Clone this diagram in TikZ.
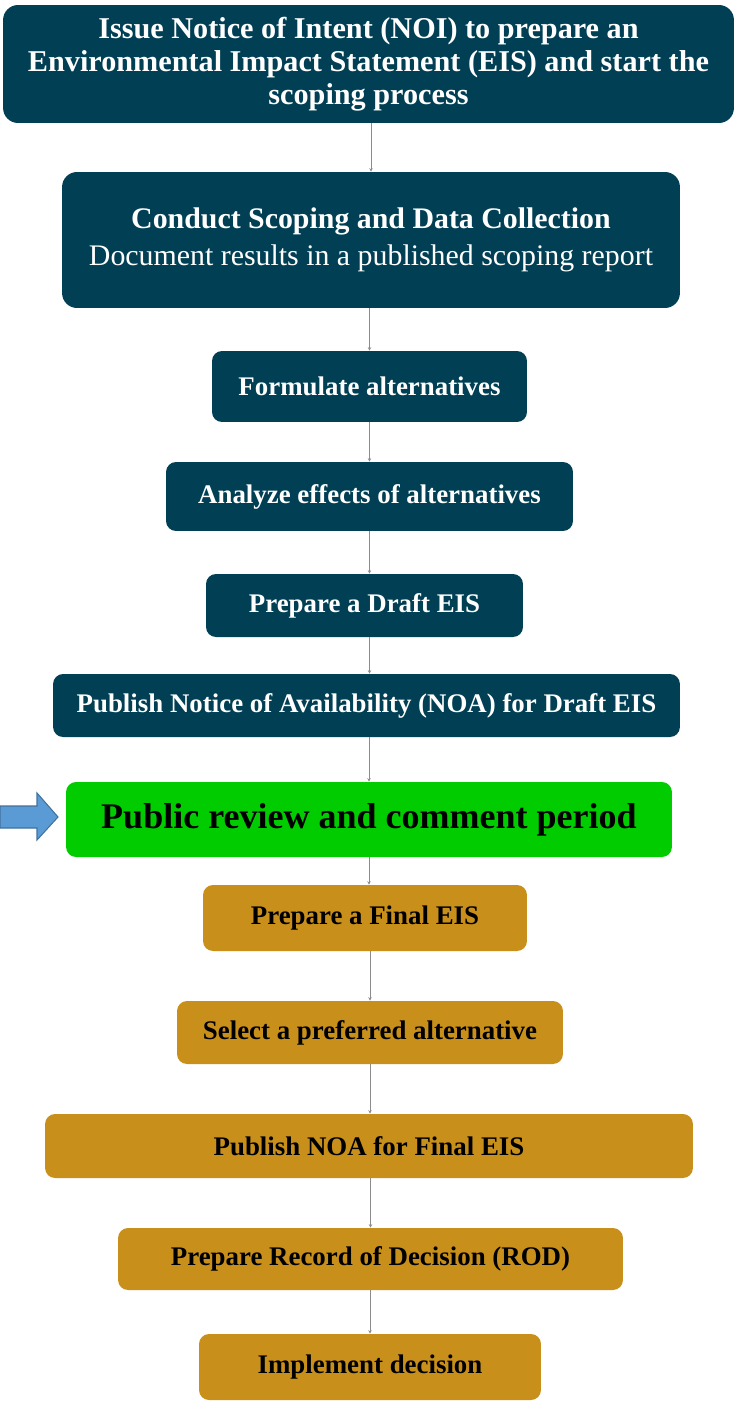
\documentclass[tikz,border=0pt]{standalone}
\usepackage{fontspec}
\setmainfont{Liberation Serif}
\usetikzlibrary{arrows.meta}

\definecolor{stepblue}{HTML}{003F54}
\definecolor{stepgreen}{HTML}{00CC00}
\definecolor{stepgold}{HTML}{C8901A}
\definecolor{pointerfill}{HTML}{5B9BD5}
\definecolor{pointerline}{HTML}{41719C}

\begin{document}
\begin{tikzpicture}[x=0.02cm,y=-0.02cm,
        stage/.style={rounded corners=0.2cm,fill=stepblue,text=white,align=center,
            font=\bfseries\fontsize{15.3}{19}\selectfont,inner sep=0pt},
        review/.style={stage,fill=stepgreen,text=black,font=\bfseries\fontsize{20.5}{24}\selectfont},
        finish/.style={stage,fill=stepgold,text=black},
        link/.style={draw=black!45,line width=0.5pt,-{Stealth[length=2pt,width=2pt]}}]
    \useasboundingbox (0,0) rectangle (736,1402);

    % Drafting stages
    \node[stage,rounded corners=0.3cm,minimum width=14.62cm,minimum height=2.36cm,
        font=\bfseries\fontsize{17.2}{18.7}\selectfont] (noi) at (368.5,64)
        {Issue Notice of Intent (NOI) to prepare an\\
         Environmental Impact Statement (EIS) and start the\\
         scoping process};
    \node[stage,rounded corners=0.3cm,minimum width=12.36cm,minimum height=2.72cm,
        font=\fontsize{17}{21}\selectfont] (scope) at (371,240)
        {\textbf{Conduct Scoping and Data Collection}\\
         Document results in a published scoping report};
    \node[stage,minimum width=6.3cm,minimum height=1.42cm] (alt) at (369.5,386.5)
        {Formulate alternatives};
    \node[stage,minimum width=8.14cm,minimum height=1.38cm] (effects) at (369.5,496.5)
        {Analyze effects of alternatives};
    \node[stage,minimum width=6.34cm,minimum height=1.26cm] (draft) at (364.5,605.5)
        {Prepare a Draft EIS};
    \node[stage,minimum width=12.54cm,minimum height=1.26cm] (noadraft) at (366.5,705.5)
        {Publish Notice of Availability (NOA) for Draft EIS};

    % Review
    \node[review,minimum width=12.12cm,minimum height=1.5cm] (public) at (369,819.5)
        {Public review and comment period};

    % Final stages
    \node[finish,minimum width=6.48cm,minimum height=1.32cm] (final) at (365,918)
        {Prepare a Final EIS};
    \node[finish,minimum width=7.72cm,minimum height=1.26cm] (pref) at (370,1032.5)
        {Select a preferred alternative};
    \node[finish,minimum width=12.96cm,minimum height=1.28cm] (noafinal) at (369,1146)
        {Publish NOA for Final EIS};
    \node[finish,minimum width=10.1cm,minimum height=1.24cm] (rod) at (370.5,1259)
        {Prepare Record of Decision (ROD)};
    \node[finish,minimum width=6.84cm,minimum height=1.32cm] (impl) at (370,1367)
        {Implement decision};

    % Connectors, kept vertical
    \draw[link] (noi.south -| scope.north) -- (scope.north);
    \draw[link] (scope.south -| alt.north) -- (alt.north);
    \draw[link] (alt.south) -- (alt.south |- effects.north);
    \draw[link] (effects.south) -- (effects.south |- draft.north);
    \draw[link] (draft.south -| effects.south) -- (effects.south |- noadraft.north);
    \draw[link] (noadraft.south -| public.north) -- (public.north);
    \draw[link] (public.south) -- (public.south |- final.north);
    \draw[link] (final.south -| pref.north) -- (pref.north);
    \draw[link] (pref.south) -- (noafinal.north -| pref.south);
    \draw[link] (noafinal.south -| rod.north) -- (rod.north);
    \draw[link] (rod.south -| impl.north) -- (impl.north);

    % Pointer to the review stage
    \draw[fill=pointerfill,draw=pointerline,line width=0.6pt]
        (0,806) -- (37,806) -- (37,793) -- (58,817) -- (37,840) -- (37,828) -- (0,828) -- cycle;
\end{tikzpicture}
\end{document}
